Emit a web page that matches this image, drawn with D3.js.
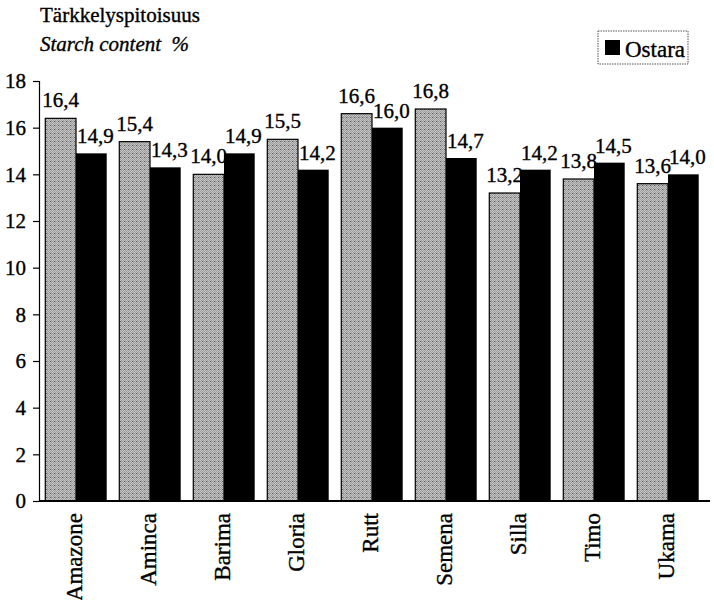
<!DOCTYPE html>
<html>
<head>
<meta charset="utf-8">
<script src="https://cdn.jsdelivr.net/npm/d3@7"></script>
<style>
  html, body { margin: 0; padding: 0; background: #fff; }
  svg { display: block; }
  svg text { font-family: "Liberation Serif", "Times New Roman", serif; stroke: #000; stroke-width: 0.35px; }
</style>
</head>
<body>
<script>
// Starch content of potato varieties
const varieties = ["Amazone", "Aminca", "Barima", "Gloria", "Rutt", "Semena", "Silla", "Timo", "Ukama"];
const varietyValues = [16.4, 15.4, 14.0, 15.5, 16.6, 16.8, 13.2, 13.8, 13.6];
const ostaraValues = [14.9, 14.3, 14.9, 14.2, 16.0, 14.7, 14.2, 14.5, 14.0];
const yTicks = [0, 2, 4, 6, 8, 10, 12, 14, 16, 18];
const legendLabel = "Ostara";

const W = 714, H = 600;
const SERIF = "Liberation Serif";
const margin = { top: 81, right: 4, bottom: 99, left: 39 };

const svg = d3.select("body").append("svg").attr("width", W).attr("height", H);

// stippled fill for the variety bars
const defs = svg.append("defs");
const pat = defs.append("pattern").attr("id", "stipple")
  .attr("patternUnits", "userSpaceOnUse").attr("width", 4).attr("height", 4);
pat.append("rect").attr("width", 4).attr("height", 4).attr("fill", "#e0e0e0");
[[0,0],[2,0],[1,1],[3,1],[0,2],[2,2],[1,3],[3,3]].forEach(([x, y]) =>
  pat.append("rect").attr("x", x).attr("y", y).attr("width", 1).attr("height", 1).attr("fill", "#808080"));
pat.append("rect").attr("x", 1).attr("y", 1).attr("width", 1).attr("height", 1).attr("fill", "#222");

const x0 = d3.scaleBand().domain(varieties)
  .range([margin.left, 705]).paddingInner(0.17).paddingOuter(0.085);
const x1 = d3.scaleBand().domain(["v", "o"]).range([0, x0.bandwidth()]);
const y = d3.scaleLinear().domain([0, 18]).range([H - margin.bottom, margin.top]);

const rows = varieties.map((name, i) => ({ name, v: varietyValues[i], o: ostaraValues[i] }));

// bars
const groups = svg.append("g").selectAll("g").data(rows).join("g")
  .attr("transform", d => `translate(${x0(d.name)},0)`);

groups.append("rect")
  .attr("x", x1("v")).attr("width", x1.bandwidth())
  .attr("y", d => y(d.v)).attr("height", d => y(0) - y(d.v))
  .attr("fill", "url(#stipple)").attr("stroke", "#000").attr("stroke-width", 1.2);

groups.append("rect")
  .attr("x", x1("o")).attr("width", x1.bandwidth())
  .attr("y", d => y(d.o)).attr("height", d => y(0) - y(d.o))
  .attr("fill", "#000");

// value labels
const fmt = v => d3.format(".1f")(v).replace(".", ",");
groups.append("text")
  .attr("x", x1("v") + x1.bandwidth() / 2)
  .attr("y", d => y(d.v) - 11)
  .attr("text-anchor", "middle").attr("font-size", 21).attr("font-family", SERIF)
  .text(d => fmt(d.v));
groups.append("text")
  .attr("x", x1("o") + x1.bandwidth() / 2 + 4)
  .attr("y", d => y(d.o) - 10)
  .attr("text-anchor", "middle").attr("font-size", 21).attr("font-family", SERIF)
  .text(d => fmt(d.o));

// y axis
const yAxis = svg.append("g").attr("transform", `translate(${margin.left},0)`)
  .call(d3.axisLeft(y).tickValues(yTicks).tickSize(6).tickPadding(7).tickFormat(d3.format("d")));
yAxis.attr("font-family", SERIF);
yAxis.select(".domain").attr("stroke", "#000").attr("stroke-width", 1.2);
yAxis.selectAll(".tick line").attr("stroke", "#000").attr("stroke-width", 1.2);
yAxis.selectAll(".tick text").attr("font-size", 21).attr("font-family", SERIF).attr("fill", "#000");

// x axis baseline
const xAxis = svg.append("g").attr("transform", `translate(0,${y(0)})`)
  .call(d3.axisBottom(x0).tickSize(0).tickPadding(12));
xAxis.attr("font-family", SERIF);
xAxis.select(".domain").attr("d", `M${margin.left},0H710`).attr("stroke", "#000").attr("stroke-width", 2);
xAxis.selectAll(".tick text")
  .attr("font-size", 23).attr("font-family", SERIF).attr("fill", "#000")
  .attr("text-anchor", "end").attr("dy", "0.35em")
  .attr("transform", "rotate(-90)")
  .attr("x", -12).attr("y", -2);

// titles
svg.append("text").attr("x", 40).attr("y", 22).attr("font-size", 21).attr("font-family", SERIF)
  .text("Tärkkelyspitoisuus");
svg.append("text").attr("x", 40).attr("y", 51).attr("font-size", 21).attr("font-family", SERIF)
  .attr("font-style", "italic").attr("xml:space", "preserve").text("Starch content  %");

// legend
const lg = svg.append("g").attr("transform", "translate(598,31)");
lg.append("rect").attr("width", 90).attr("height", 33).attr("fill", "#fff")
  .attr("stroke", "#555").attr("stroke-width", 1).attr("stroke-dasharray", "1.5,1");
lg.append("rect").attr("x", 7).attr("y", 9).attr("width", 15).attr("height", 15).attr("fill", "#000");
lg.append("text").attr("x", 27).attr("y", 26).attr("font-size", 23).attr("font-family", SERIF).text(legendLabel);
</script>
</body>
</html>
